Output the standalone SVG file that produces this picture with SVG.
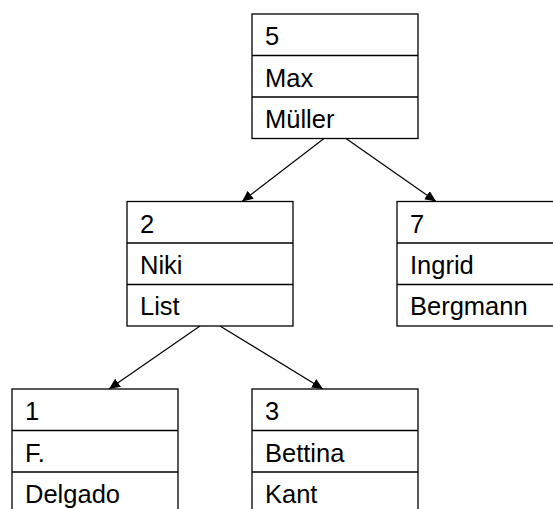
<svg xmlns="http://www.w3.org/2000/svg" width="553" height="509" viewBox="0 0 553 509">
<style>
.box{fill:#fff;stroke:#000;stroke-width:1.3}
.sep{stroke:#000;stroke-width:1.3}
.t{font-family:"Liberation Sans",Arial,sans-serif;font-size:25.5px;fill:#000}
.edge{stroke:#000;stroke-width:1.2;fill:none;marker-end:url(#arr)}
</style>
<defs>
<marker id="arr" viewBox="0 0 11 10" refX="11" refY="5" markerWidth="11" markerHeight="10" markerUnits="userSpaceOnUse" orient="auto">
<path d="M0,0 L11,5 L0,10 Z" fill="#000"/>
</marker>
</defs>
<rect width="553" height="509" fill="#fff"/>
<g id="connectors">
<line class="edge" x1="324" y1="138.5" x2="242" y2="201.5"/>
<line class="edge" x1="346" y1="138.5" x2="436" y2="201.5"/>
<line class="edge" x1="200" y1="326" x2="109" y2="389"/>
<line class="edge" x1="220" y1="326" x2="323" y2="389"/>
</g>
<g id="node5">
<rect class="box" x="252" y="14" width="166" height="124.5"/>
<line class="sep" x1="252" y1="55.5" x2="418" y2="55.5"/>
<line class="sep" x1="252" y1="97" x2="418" y2="97"/>
<text class="t" x="265" y="45">5</text>
<text class="t" x="265" y="86.5">Max</text>
<text class="t" x="265" y="128">Müller</text>
</g>
<g id="node2">
<rect class="box" x="127" y="201.5" width="166" height="124.5"/>
<line class="sep" x1="127" y1="243" x2="293" y2="243"/>
<line class="sep" x1="127" y1="284.5" x2="293" y2="284.5"/>
<text class="t" x="140" y="232.5">2</text>
<text class="t" x="140" y="274">Niki</text>
<text class="t" x="140" y="315">List</text>
</g>
<g id="node7">
<rect class="box" x="397" y="201.5" width="166" height="124.5"/>
<line class="sep" x1="397" y1="243" x2="563" y2="243"/>
<line class="sep" x1="397" y1="284.5" x2="563" y2="284.5"/>
<text class="t" x="410" y="232.5">7</text>
<text class="t" x="410" y="274">Ingrid</text>
<text class="t" x="410" y="315">Bergmann</text>
</g>
<g id="node1">
<rect class="box" x="12" y="389" width="166" height="124.5"/>
<line class="sep" x1="12" y1="430.5" x2="178" y2="430.5"/>
<line class="sep" x1="12" y1="472" x2="178" y2="472"/>
<text class="t" x="25" y="420">1</text>
<text class="t" x="25" y="461.5">F.</text>
<text class="t" x="25" y="503">Delgado</text>
</g>
<g id="node3">
<rect class="box" x="252" y="389" width="166" height="124.5"/>
<line class="sep" x1="252" y1="430.5" x2="418" y2="430.5"/>
<line class="sep" x1="252" y1="472" x2="418" y2="472"/>
<text class="t" x="265" y="420">3</text>
<text class="t" x="265" y="461.5">Bettina</text>
<text class="t" x="265" y="503">Kant</text>
</g>
</svg>
